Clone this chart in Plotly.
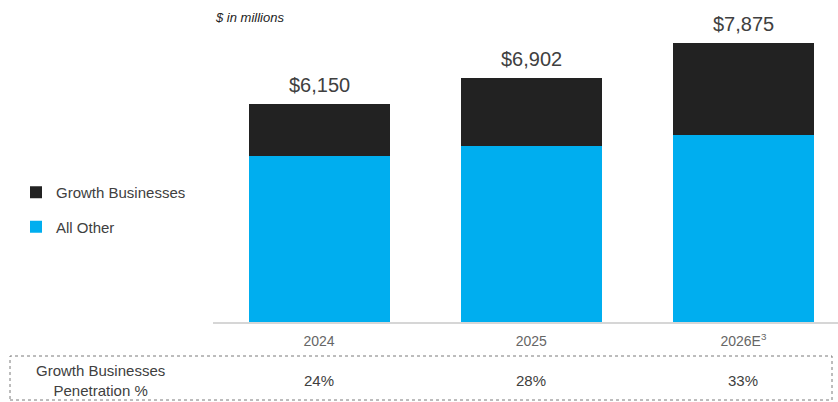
import plotly.graph_objects as go

# Revenue mix, $ in millions
years = ["2024", "2025", "2026E"]
year_labels = ["2024", "2025", "2026E<sup>3</sup>"]
totals = [6150, 6902, 7875]
growth_businesses = [1470, 1935, 2595]
all_other = [t - g for t, g in zip(totals, growth_businesses)]
penetration_pct = [24, 28, 33]

W, H = 838, 402
ML, MR, MT, MB = 213, 0, 20, 80
PLOT_W = W - ML - MR
PLOT_H = H - MT - MB


def px_x(px):
    return (px - ML) / PLOT_W


def px_y(py):
    return (H - MB - py) / PLOT_H


TEXT = "#404040"
FONT = "Liberation Sans, Arial, sans-serif"

fig = go.Figure()
fig.add_trace(go.Bar(
    x=years, y=all_other, name="All Other",
    marker=dict(color="#00AEEF", line=dict(width=0)),
    width=0.665, legendgroup="b", legendrank=2,
))
fig.add_trace(go.Bar(
    x=years, y=growth_businesses, name="Growth Businesses",
    marker=dict(color="#222222", line=dict(width=0)),
    width=0.665, legendgroup="a", legendrank=1,
))

# Total labels above each stacked bar (category index positions)
for i, tot in enumerate(totals):
    fig.add_annotation(
        x=i, y=tot, xref="x", yref="y", text=f"${tot:,}",
        showarrow=False, yanchor="bottom", yshift=6,
        font=dict(size=20, color=TEXT, family=FONT),
    )

# Units note
fig.add_annotation(
    x=0, y=px_y(18), xref="paper", yref="paper", text="<i>$ in millions</i>",
    showarrow=False, xanchor="left", yanchor="middle",
    font=dict(size=13, color="#222222", family=FONT),
)

# Penetration row beneath the chart
fig.add_shape(
    type="rect", xref="paper", yref="paper",
    x0=px_x(10), x1=px_x(832), y0=px_y(400), y1=px_y(356),
    line=dict(color="#7a7a7a", width=1, dash="dot"),
)
fig.add_annotation(
    x=px_x(100), y=px_y(380), xref="paper", yref="paper",
    text="Growth Businesses<br>Penetration %", showarrow=False,
    xanchor="center", yanchor="middle", align="center",
    font=dict(size=15, color=TEXT, family=FONT),
)
for i, p in enumerate(penetration_pct):
    fig.add_annotation(
        x=i, y=px_y(380), xref="x", yref="paper", text=f"{p}%",
        showarrow=False, xanchor="center", yanchor="middle",
        font=dict(size=15, color=TEXT, family=FONT),
    )

fig.update_layout(
    width=W, height=H,
    margin=dict(l=ML, r=MR, t=MT, b=MB, pad=0),
    barmode="stack",
    plot_bgcolor="white", paper_bgcolor="white",
    font=dict(family=FONT, color=TEXT),
    legend=dict(
        x=px_x(16), y=px_y(176), xanchor="left", yanchor="top",
        traceorder="grouped", tracegroupgap=12,
        font=dict(size=15, color=TEXT, family=FONT),
        itemwidth=30, bgcolor="rgba(0,0,0,0)",
    ),
    xaxis=dict(
        type="category", range=[-0.5, 2.446],
        tickvals=years, ticktext=year_labels,
        showline=True, linecolor="#d6d6d6", linewidth=1.5,
        ticks="", showgrid=False, zeroline=False,
        ticklabelstandoff=5,
        tickfont=dict(size=14, color="#666666", family=FONT),
    ),
    yaxis=dict(
        range=[0, PLOT_H / 0.0354], visible=False,
        showgrid=False, zeroline=False,
    ),
)

fig.write_html("out.html")
